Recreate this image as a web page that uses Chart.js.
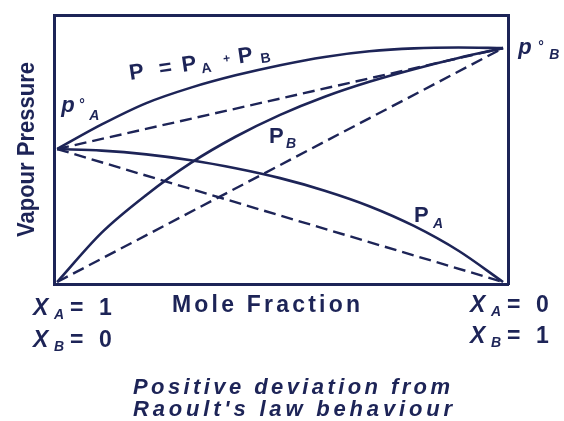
<!DOCTYPE html>
<html lang="en">
<head>
  <meta charset="utf-8">
  <title>Positive deviation from Raoult's law</title>
  <style>
    html, body { margin: 0; padding: 0; background: #fff; }
    #wrap { width: 564px; height: 421px; }
  </style>
</head>
<body>

  <div id="wrap"><canvas id="chart" width="564" height="421"></canvas></div>

  <script src="https://cdn.jsdelivr.net/npm/chart.js@4.4.1/dist/chart.umd.min.js"></script>
  <script>
    // mole fraction of B along the axis (0 = pure A, 1 = pure B)
    var xB = [0, 0.1, 0.2, 0.3, 0.4, 0.5, 0.6, 0.7, 0.8, 0.9, 1];
    // vapour pressures (arbitrary units, box top = 100)
    var pA = [49.8, 49.2, 47.8, 45.6, 42.6, 38.9, 34.2, 28.4, 21.0, 11.7, 0];
    var pB = [0, 18.5, 32.6, 44.6, 54.4, 62.6, 69.4, 75.0, 79.7, 83.9, 87.6];
    var pTotal = [49.8, 59.0, 67.0, 72.8, 77.4, 81.2, 84.3, 86.4, 87.5, 87.8, 87.6];

    // ideal (Raoult) straight lines, end points only
    var xIdeal = [0, 1];
    var pAIdeal = [49.8, 0];
    var pBIdeal = [0, 87.6];
    var pIdeal = [49.8, 87.6];

    var ink = '#1d2457';
    var FONT = '"Liberation Sans", Arial, sans-serif';

    function pts(xs, ys) {
      return xs.map(function (x, i) { return { x: x, y: ys[i] }; });
    }

    function solid(data) {
      return { data: data, borderColor: ink, borderWidth: 2.6, pointRadius: 0,
               fill: false, cubicInterpolationMode: 'monotone' };
    }
    function dashed(data) {
      return { data: data, borderColor: ink, borderWidth: 2.4, pointRadius: 0,
               fill: false, borderDash: [12, 6], tension: 0 };
    }

    // text drawn with extra spacing so it spans a given width
    function spread(ctx, text, font, x, y, width) {
      ctx.font = font;
      var chars = Array.from(text);
      var w = 0;
      chars.forEach(function (c) { w += ctx.measureText(c).width; });
      var gap = (width - w) / (chars.length - 1);
      chars.forEach(function (c) {
        ctx.fillText(c, x, y);
        x += ctx.measureText(c).width + gap;
      });
    }

    var big = 'bold 22px ' + FONT;
    var bigIt = 'italic bold 22px ' + FONT;
    var sub = 'bold 14px ' + FONT;
    var subIt = 'italic bold 14px ' + FONT;
    var tiny = 'bold 12px ' + FONT;

    // labels next to the curves, anchored in data units
    var curveLabels = [
      { at: [0.164, 75.7], angle: -8.5, parts: [
        ['P', big, 0, 0], ['=', big, 30, 0], ['P', big, 53, 0], ['A', sub, 72, 4],
        ['+', tiny, 95, -3], ['P', big, 110, 0], ['B', sub, 132, 3]] },
      { at: [0.009, 63.7], angle: 0, parts: [
        ['p', bigIt, 0, 0], ['°', sub, 18, -3], ['A', subIt, 28, 8]] },
      { at: [0.475, 52.1], angle: 0, parts: [['P', big, 0, 0], ['B', subIt, 17, 5]] },
      { at: [0.800, 22.5], angle: 0, parts: [['P', big, 0, 0], ['A', subIt, 19, 6]] },
      { at: [1.034, 85.4], angle: 0, parts: [
        ['p', bigIt, 0, 0], ['°', sub, 20, -3], ['B', subIt, 31, 5]] }
    ];

    var xLab = 'italic bold 23px ' + FONT;
    var nLab = 'bold 23px ' + FONT;
    // end labels under the corners: [x value, baseline below box, X offset, sub letter, value]
    var endLabels = [
      [0, 31, -24, 'A', '1'], [0, 63, -24, 'B', '0'],
      [1, 28, -33, 'A', '0'], [1, 59, -33, 'B', '1']
    ];

    var textPlugin = {
      id: 'texts',
      afterDraw: function (chart) {
        var ctx = chart.ctx;
        var xs = chart.scales.x, ys = chart.scales.y, area = chart.chartArea;
        ctx.save();
        ctx.fillStyle = ink;
        ctx.textBaseline = 'alphabetic';
        ctx.textAlign = 'left';

        curveLabels.forEach(function (l) {
          ctx.save();
          ctx.translate(xs.getPixelForValue(l.at[0]), ys.getPixelForValue(l.at[1]));
          ctx.rotate(l.angle * Math.PI / 180);
          l.parts.forEach(function (p) {
            ctx.font = p[1];
            ctx.fillText(p[0], p[2], p[3]);
          });
          ctx.restore();
        });

        endLabels.forEach(function (e) {
          var x0 = xs.getPixelForValue(e[0]) + e[2];
          var y0 = area.bottom + e[1];
          ctx.font = xLab; ctx.fillText('X', x0, y0);
          ctx.font = subIt; ctx.fillText(e[3], x0 + 21, y0 + 4);
          ctx.font = nLab; ctx.fillText('=', x0 + 37, y0);
          ctx.fillText(e[4], x0 + 66, y0);
        });

        spread(ctx, 'Mole Fraction', 'bold 23px ' + FONT, 172, area.bottom + 28, 188);
        spread(ctx, 'Positive deviation from', 'italic bold 22px ' + FONT, 133, 394, 317);
        spread(ctx, "Raoult's law behaviour", 'italic bold 22px ' + FONT, 133, 416, 319);

        // rotated axis title, squeezed to the figure's height
        ctx.save();
        ctx.translate(34, (area.top + area.bottom) / 2);
        ctx.rotate(-Math.PI / 2);
        ctx.font = 'bold 24px ' + FONT;
        ctx.textAlign = 'center';
        var w = ctx.measureText('Vapour Pressure').width;
        ctx.scale(175 / w, 1);
        ctx.fillText('Vapour Pressure', 0, 0);
        ctx.restore();

        ctx.restore();
      }
    };

    var frame = { display: true, color: ink, width: 3 };
    function axis(pos, min, max) {
      return { type: 'linear', position: pos, min: min, max: max,
               ticks: { display: false }, grid: { display: false, drawTicks: false },
               border: frame };
    }

    new Chart(document.getElementById('chart').getContext('2d'), {
      type: 'line',
      data: {
        datasets: [
          dashed(pts(xIdeal, pIdeal)),
          dashed(pts(xIdeal, pAIdeal)),
          dashed(pts(xIdeal, pBIdeal)),
          solid(pts(xB, pTotal)),
          solid(pts(xB, pA)),
          solid(pts(xB, pB))
        ]
      },
      options: {
        responsive: false,
        animation: false,
        events: [],
        layout: { padding: { left: 54, right: 56, top: 15, bottom: 137 } },
        plugins: { legend: { display: false }, tooltip: { enabled: false } },
        scales: {
          x: axis('bottom', -0.007, 1.011),
          x2: axis('top', -0.007, 1.011),
          y: axis('left', -0.75, 100),
          y2: axis('right', -0.75, 100)
        }
      },
      plugins: [textPlugin]
    });
  </script>
</body>
</html>
